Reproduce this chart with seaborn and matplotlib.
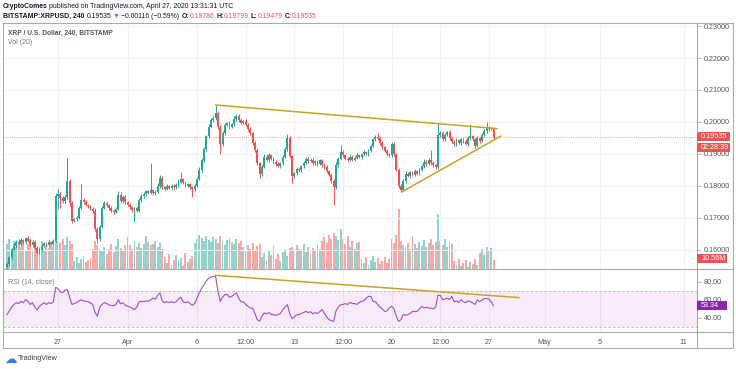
import numpy as np
import pandas as pd
import seaborn as sns
import matplotlib
matplotlib.use("Agg")
import matplotlib.pyplot as plt
import matplotlib.dates as mdates
from matplotlib.lines import Line2D
from matplotlib.patches import Rectangle

sns.set_theme(style="white")
plt.rcParams['font.family'] = ['Liberation Sans', 'DejaVu Sans']

W, H = 736, 369

# 4h candles, BITSTAMP:XRPUSD, first bar 2020-03-23 08:00
first_open = 0.1545
close = [
    0.1555, 0.1575, 0.1598, 0.1612, 0.1625, 0.1618, 0.1630, 0.1622, 0.1635, 0.1628,
    0.1615, 0.1625, 0.1605, 0.1590, 0.1600, 0.1612, 0.1620, 0.1615, 0.1622, 0.1618,
    0.1628, 0.1768, 0.1775, 0.1760, 0.1752, 0.1765, 0.1815, 0.1745, 0.1690, 0.1695,
    0.1700, 0.1730, 0.1755, 0.1748, 0.1740, 0.1735, 0.1728, 0.1722, 0.1665, 0.1632,
    0.1672, 0.1730, 0.1745, 0.1738, 0.1730, 0.1722, 0.1718, 0.1728, 0.1772, 0.1752,
    0.1765, 0.1748, 0.1740, 0.1732, 0.1725, 0.1730, 0.1722, 0.1755, 0.1768, 0.1775,
    0.1782, 0.1778, 0.1785, 0.1776, 0.1780, 0.1800, 0.1825, 0.1795, 0.1790, 0.1798,
    0.1793, 0.1800, 0.1795, 0.1802, 0.1812, 0.1820, 0.1810, 0.1800, 0.1805, 0.1795,
    0.1790, 0.1800, 0.1822, 0.1850, 0.1880, 0.1915, 0.1955, 0.1985, 0.2005, 0.2012,
    0.2028, 0.1985, 0.1930, 0.1965, 0.1990, 0.1995, 0.1985, 0.1992, 0.2010, 0.2020,
    0.2005, 0.1998, 0.2003, 0.1990, 0.1978, 0.1965, 0.1935, 0.1912, 0.1870, 0.1836,
    0.1860, 0.1890, 0.1880, 0.1895, 0.1885, 0.1875, 0.1868, 0.1862, 0.1870, 0.1890,
    0.1915, 0.1950, 0.1892, 0.1830, 0.1840, 0.1852, 0.1848, 0.1862, 0.1872, 0.1885,
    0.1878, 0.1882, 0.1870, 0.1876, 0.1868, 0.1880, 0.1865, 0.1858, 0.1845, 0.1835,
    0.1815, 0.1795, 0.1865, 0.1885, 0.1905, 0.1895, 0.1885, 0.1880, 0.1890, 0.1882,
    0.1888, 0.1895, 0.1890, 0.1898, 0.1905, 0.1900, 0.1910, 0.1925, 0.1945, 0.1953,
    0.1948, 0.1935, 0.1920, 0.1910, 0.1900, 0.1895, 0.1932, 0.1900, 0.1850, 0.1800,
    0.1788, 0.1815, 0.1838, 0.1830, 0.1842, 0.1835, 0.1845, 0.1838, 0.1850, 0.1862,
    0.1875, 0.1868, 0.1880, 0.1872, 0.1865, 0.1858, 0.1958, 0.1965, 0.1945, 0.1960,
    0.1968, 0.1950, 0.1938, 0.1930, 0.1942, 0.1935, 0.1945, 0.1940, 0.1932, 0.1948,
    0.1955, 0.1945, 0.1925, 0.1950, 0.1940, 0.1960, 0.1972, 0.1980, 0.1978, 0.19786, 0.19535,
]
# wick lengths above / below the body, in 0.0001
wick_up = [
    5, 4, 6, 8, 5, 7, 6, 4, 5, 6,
    5, 4, 6, 5, 4, 6, 5, 4, 7, 5,
    4, 10, 15, 6, 8, 5, 72, 6, 8, 5,
    4, 6, 50, 5, 6, 4, 5, 6, 8, 5,
    6, 5, 8, 5, 4, 6, 5, 4, 10, 7,
    6, 5, 4, 6, 5, 4, 6, 8, 5, 6,
    5, 6, 85, 5, 6, 8, 7, 5, 4, 6,
    5, 4, 6, 5, 8, 23, 5, 6, 4, 5,
    4, 6, 5, 8, 6, 7, 5, 8, 6, 5,
    25, 6, 5, 8, 5, 6, 7, 5, 8, 6,
    5, 6, 4, 5, 6, 5, 4, 6, 5, 4,
    6, 8, 10, 6, 5, 4, 6, 5, 4, 6,
    5, 12, 6, 5, 4, 6, 5, 4, 6, 5,
    4, 6, 5, 4, 6, 5, 4, 5, 6, 4,
    5, 6, 8, 5, 23, 6, 5, 4, 6, 5,
    4, 6, 5, 4, 6, 5, 4, 6, 5, 6,
    11, 5, 4, 6, 5, 4, 6, 5, 4, 5,
    6, 5, 8, 6, 5, 4, 6, 5, 6, 5,
    8, 5, 6, 32, 5, 4, 39, 6, 5, 6,
    5, 6, 4, 5, 6, 5, 4, 6, 5, 8,
    37, 5, 6, 5, 4, 6, 5, 20, 6, 5, 1,
]
wick_dn = [
    10, 6, 5, 4, 6, 5, 6, 5, 4, 6,
    5, 6, 8, 5, 4, 6, 5, 4, 6, 5,
    5, 6, 40, 30, 6, 5, 6, 8, 6, 5,
    6, 5, 4, 6, 5, 6, 5, 6, 8, 12,
    6, 5, 4, 6, 5, 4, 6, 5, 4, 6,
    5, 6, 4, 5, 6, 38, 5, 4, 6, 5,
    6, 5, 4, 6, 5, 4, 6, 5, 6, 5,
    4, 6, 5, 4, 6, 5, 6, 5, 4, 6,
    25, 6, 5, 4, 6, 5, 6, 5, 4, 6,
    5, 6, 30, 6, 5, 4, 6, 5, 4, 6,
    5, 6, 5, 4, 6, 5, 6, 5, 4, 11,
    6, 5, 4, 6, 5, 6, 5, 4, 6, 5,
    4, 6, 5, 20, 6, 5, 4, 6, 5, 4,
    6, 5, 4, 6, 5, 4, 6, 5, 4, 6,
    5, 55, 6, 5, 4, 6, 5, 6, 4, 5,
    6, 5, 4, 6, 5, 4, 6, 5, 4, 6,
    5, 6, 4, 5, 6, 5, 4, 6, 5, 6,
    8, 6, 5, 4, 6, 5, 4, 6, 5, 4,
    6, 5, 4, 6, 5, 6, 5, 4, 6, 5,
    4, 6, 5, 4, 6, 5, 6, 5, 4, 6,
    5, 6, 8, 5, 6, 4, 5, 6, 5, 4, 6,
]
# volume in millions XRP
volume = [
    29, 35, 23, 33, 26, 30,
    26, 33, 21, 29, 35, 23, 30, 20, 26, 33, 22, 28, 25, 32, 27,
    39, 33, 30, 35, 28, 37, 33, 29,
    9, 14, 7, 12, 15, 8, 11, 13,
    23, 33, 28, 21,
    21, 26, 18, 23, 29, 20, 27, 35, 25, 22, 28,
    37, 28, 23, 33, 26, 30, 25, 29, 39, 32, 28,
    29, 33, 26, 30, 23,
    14, 7, 18, 5, 11, 16, 9, 13, 4, 19, 8, 12, 15,
    30, 35, 40, 36, 33, 39, 34, 32, 37, 35, 30, 39, 33, 28, 34, 36, 32, 29, 35, 30, 33,
    26, 21, 28, 23, 30, 22, 27, 29,
    14, 19, 11, 21, 16, 27, 12, 18, 9, 20, 23, 15, 25,
    26, 21, 28, 23, 22, 29, 20, 26, 18, 25, 21, 28, 23,
    33, 37, 30, 40, 35, 42, 39, 34, 47,
    35, 29, 39, 26, 33, 23, 30,
    32, 12, 7, 14, 5, 11, 15, 8, 13, 6, 9, 14, 7, 12,
    35, 30, 40, 70,
    33, 28, 26, 30, 23, 39, 29, 25, 32, 27, 34, 26, 30, 35, 28, 32,
    64,
    33, 28, 35, 26, 32, 29,
    9, 5, 12, 4, 7, 11, 2, 8, 6, 12, 5,
    19, 23, 16, 26, 21, 25, 10.56,
]
rsi = [
    43.7, 48, 52, 55, 57, 56, 58.5, 57, 60.4, 58.5,
    55, 57, 52, 49, 53, 55, 57, 55, 57, 56,
    58, 74, 72.6, 69, 68, 71, 71.5, 63, 55, 56,
    57, 59, 60, 59, 58.5, 58, 56.7, 55, 46, 41.9,
    52, 55, 57, 56, 54.5, 54, 53.5, 55, 60.4, 55.6,
    57, 54, 53, 52, 51, 49.3, 52, 58, 58.5, 58,
    59, 58.5, 60, 62, 61, 65, 67.8, 58.5, 57, 58,
    57, 58, 57, 58, 61, 63, 58, 57, 58, 56,
    54.1, 56, 62, 68, 73, 77, 81, 84, 85.5, 86,
    86.5, 70, 58.5, 63, 66, 66, 63, 64, 66, 67.8,
    62, 58, 58, 55, 53, 51, 51, 45, 38, 36.3,
    42, 45.6, 44.5, 46, 44, 43.7, 43, 43.7, 45, 49,
    52, 54.8, 45, 39.3, 41, 43.7, 43.5, 45, 46, 47.4,
    46, 47, 44.5, 46, 45, 47, 49.3, 45, 41, 38,
    37, 36.3, 48, 52, 54.8, 55, 56, 55, 57.4, 56,
    56, 55, 57, 58.5, 59, 62, 64, 64, 58.5, 58,
    55, 52, 50, 47, 48, 51, 53, 50, 42, 36.3,
    38, 43.7, 43, 43.7, 45, 47.4, 47, 47.4, 50, 53,
    51, 52, 51, 51, 50, 52, 65.2, 65, 60.4, 61,
    62, 60.4, 64, 58, 59, 57, 60.4, 58, 57, 59,
    58, 56.7, 55, 60, 58, 60, 61.5, 61.5, 61, 58, 53.34,
]
assert len(close) == len(wick_up) == len(wick_dn) == len(volume) == len(rsi)

# trend lines drawn by the author
price_top_line = (["2020-04-07 08:00", "2020-04-27 14:00"], [0.2053, 0.1979])
price_low_line = (["2020-04-20 17:00", "2020-04-27 21:00"], [0.1780, 0.1956])
rsi_line = (["2020-04-07 08:00", "2020-04-29 04:00"], [87.4, 62.6])

tick_dates = ["2020-03-27 00:00", "2020-04-01 00:00", "2020-04-06 00:00", "2020-04-09 12:00",
              "2020-04-13 00:00", "2020-04-16 12:00", "2020-04-20 00:00", "2020-04-23 12:00",
              "2020-04-27 00:00", "2020-05-01 00:00", "2020-05-05 00:00", "2020-05-11 00:00"]
tick_labels = ["27", "Apr", "6", "12:00", "13", "12:00", "20", "12:00", "27", "May", "5", "11"]
price_ticks = [0.16, 0.17, 0.18, 0.19, 0.20, 0.21, 0.22, 0.23]
rsi_ticks = [40, 60, 80]

GREEN, RED = "#26a69a", "#ef5350"
FRAME = "#a8abb3"
TXT = "#131722"
GOLD = "#c9a227"


def dnum(lst):
    return mdates.date2num(pd.to_datetime(lst, format="%Y-%m-%d %H:%M"))


times = pd.date_range("2020-03-23 08:00", periods=len(close), freq="4h")
xs = mdates.date2num(times)
c = np.array(close)
o = np.array([first_open] + close[:-1])
hi = np.maximum(o, c) + np.array(wick_up) * 1e-4
lo = np.minimum(o, c) - np.array(wick_dn) * 1e-4
up = c >= o
cols = np.where(up, GREEN, RED)
vcols = np.where(up, "#93d3cd", "#f7a9a8")

fig = plt.figure(figsize=(W / 100, H / 100), dpi=100)
fig.patch.set_facecolor("white")
L, R = 3, 697
ax = fig.add_axes([L / W, 1 - 269 / H, (R - L) / W, (269 - 23) / H])
axr = fig.add_axes([L / W, 1 - 332 / H, (R - L) / W, (332 - 269) / H])
axv = ax.twinx()
axv.set_zorder(ax.get_zorder() - 1)
ax.patch.set_visible(False)

xlim = dnum(["2020-03-23 01:00", "2020-05-11 23:15"])
bw = 0.8 / 6
tx = dnum(tick_dates)

# volume
axv.bar(xs, volume, width=0.82 / 6, color=vcols, linewidth=0)
axv.set_ylim(0, 288)
axv.set_yticks([])
axv.set_xlim(*xlim)

# candles
ax.vlines(xs, lo, hi, colors=cols, linewidth=0.7, zorder=3)
ax.bar(xs, np.maximum(np.abs(c - o), 0.00008), bottom=np.minimum(o, c), width=bw,
       color=cols, linewidth=0, zorder=4)
ax.axhline(0.19535, color=RED, ls=(0, (1, 1.6)), lw=0.6, alpha=0.8, zorder=2)
for ln in (price_top_line, price_low_line):
    ax.plot(dnum(ln[0]), ln[1], color=GOLD, lw=1.1, zorder=5, solid_capstyle="round")
ax.set_xlim(*xlim)
ax.set_ylim(0.15389, 0.2310)
ax.set_xticks(tx)
ax.set_xticklabels([])
ax.set_yticks(price_ticks)
ax.set_yticklabels([f"{v:.5f}" for v in price_ticks])
ax.yaxis.tick_right()
ax.grid(True, color="#eff1f6", lw=0.7)
ax.tick_params(axis="x", length=0)
ax.tick_params(axis="y", length=3, width=0.6, color=FRAME, pad=2, labelsize=5.2,
               labelcolor="#50535e")

# RSI
axr.axhspan(30, 70, color="#9c27b0", alpha=0.09, lw=0)
for lvl in (30, 70):
    axr.axhline(lvl, color="#b4b6be", ls=(0, (3, 2.5)), lw=0.6)
sns.lineplot(x=xs, y=rsi, ax=axr, color="#a24bd1", lw=0.8)
axr.plot(dnum(rsi_line[0]), rsi_line[1], color=GOLD, lw=1.1, solid_capstyle="round")
axr.set_xlim(*xlim)
axr.set_ylim(24.4, 94.4)
axr.set_xticks(tx)
axr.set_xticklabels(tick_labels)
axr.set_yticks(rsi_ticks)
axr.set_yticklabels([f"{v:.2f}" for v in rsi_ticks])
axr.yaxis.tick_right()
axr.grid(True, axis="x", color="#eff1f6", lw=0.7)
axr.tick_params(axis="x", length=2, width=0.6, color=FRAME, pad=3.2, labelsize=5.2,
                labelcolor="#50535e")
axr.tick_params(axis="y", length=3, width=0.6, color=FRAME, pad=2, labelsize=5.2,
                labelcolor="#50535e")

for a in (ax, axr, axv):
    for s in a.spines.values():
        s.set_visible(False)


def fline(x0, y0, x1, y1):
    fig.add_artist(Line2D([x0 / W, x1 / W], [1 - y0 / H, 1 - y1 / H], color=FRAME, lw=0.8,
                          transform=fig.transFigure))


fline(3, 23, 733, 23)
fline(3, 269, 733, 269)
fline(3, 332, 733, 332)
fline(3, 348, 733, 348)
fline(3, 23, 3, 348)
fline(697, 23, 697, 348)
fline(733, 23, 733, 348)


def tag(y, text, color, w=33):
    fig.add_artist(Rectangle((697 / W, 1 - (y + 4.5) / H), w / W, 9 / H, color=color,
                             transform=fig.transFigure, lw=0, zorder=10))
    fig.text(701 / W, 1 - y / H, text, color="white", fontsize=5.2, va="center",
             ha="left", zorder=11)


tag(136, "0.19535", RED)
tag(147, "02:28:39", RED)
tag(258.5, "10.56M", RED, 30)
tag(305.5, "53.34", "#8e24aa", 30)

renderer = fig.canvas.get_renderer()


def chain(x, y, parts, size=4.95):
    for text, color, weight, gap in parts:
        x += gap
        t = fig.text(x / W, 1 - y / H, text, color=color, fontweight=weight, fontsize=size,
                     va="center", ha="left")
        x += t.get_window_extent(renderer).width


chain(3, 6, [("CryptoComes", TXT, "bold", 0),
             ("published on TradingView.com, April 27, 2020 13:31:31 UTC", TXT, "normal", 1.5)])
chain(3, 16, [("BITSTAMP:XRPUSD, 240", TXT, "bold", 0),
              ("0.19535", TXT, "normal", 2),
              ("▼", RED, "normal", 1.8),
              ("\u22120.00116 (\u22120.59%)", TXT, "normal", 1.8),
              ("O:", TXT, "bold", 2), ("0.19786", RED, "normal", 0.3),
              ("H:", TXT, "bold", 2), ("0.19799", RED, "normal", 0.3),
              ("L:", TXT, "bold", 2), ("0.19479", RED, "normal", 0.3),
              ("C:", TXT, "bold", 2), ("0.19535", RED, "normal", 0.3)])

fig.text(8 / W, 1 - 33 / H, "XRP / U.S. Dollar, 240, BITSTAMP", color="#50535e",
         fontweight="bold", fontsize=4.8, va="center")
fig.text(8 / W, 1 - 43 / H, "Vol (20)", color="#787b86", fontsize=5, va="center")
fig.text(8 / W, 1 - 283 / H, "RSI (14, close)", color="#787b86", fontsize=5, va="center")

fig.text(4 / W, 1 - 359 / H, "\u2601", color="#2f7ded", fontsize=9, va="center",
         family="DejaVu Sans")
fig.text(18 / W, 1 - 359 / H, "TradingView", color="#3b3f4a", fontsize=5.2, va="center")

fig.savefig("out.png", dpi=100, facecolor="white")
